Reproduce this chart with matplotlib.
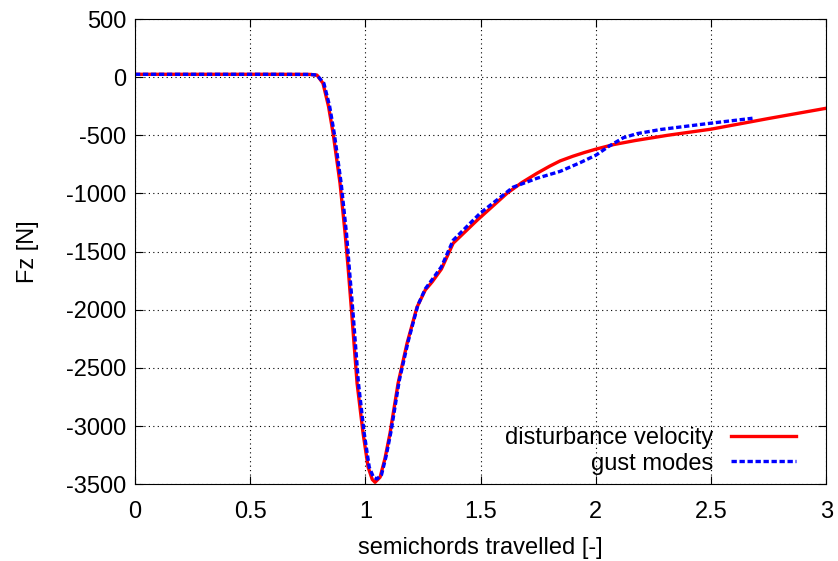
import matplotlib
matplotlib.use("Agg")
import matplotlib.pyplot as plt
from matplotlib.ticker import FuncFormatter

plt.rcParams['font.family'] = ['Liberation Sans', 'DejaVu Sans']
plt.rcParams['axes.unicode_minus'] = False
fontsize = 17

# disturbance velocity (red)
x_dist = [0.0, 0.3, 0.6, 0.76, 0.79, 0.816, 0.84, 0.86, 0.89, 0.912, 0.925, 0.942,
          0.964, 0.99, 1.012, 1.03, 1.042, 1.064, 1.085, 1.107, 1.142, 1.181,
          1.224, 1.26, 1.29, 1.33, 1.381, 1.485, 1.615, 1.68, 1.745, 1.8, 1.845,
          1.9, 1.95, 2.0, 2.076, 2.17, 2.31, 2.41, 2.5, 2.75, 3.0]
fz_dist = [25, 25, 25, 24, 18, -52, -250, -482, -912, -1342, -1634, -2064,
           -2632, -3062, -3355, -3460, -3484, -3440, -3280, -3062, -2632, -2288,
           -1978, -1830, -1760, -1650, -1428, -1230, -998, -905, -826, -765, -720,
           -680, -648, -619, -580, -545, -500, -472, -447, -355, -267]

# gust modes (blue)
x_gust = [0.0, 0.3, 0.6, 0.76, 0.79, 0.82, 0.845, 0.865, 0.895, 0.918, 0.93, 0.948,
          0.97, 0.995, 1.017, 1.035, 1.05, 1.07, 1.09, 1.112, 1.147, 1.186,
          1.228, 1.26, 1.29, 1.33, 1.381, 1.498, 1.641, 1.745, 1.845, 1.932,
          2.0, 2.06, 2.12, 2.18, 2.28, 2.4, 2.497, 2.6, 2.68]
fz_gust = [25, 25, 25, 24, 18, -52, -250, -482, -912, -1342, -1634, -2064,
           -2632, -3062, -3355, -3440, -3455, -3420, -3260, -3040, -2610, -2270,
           -1960, -1820, -1740, -1630, -1402, -1170, -946, -869, -810, -735,
           -671, -590, -520, -485, -450, -420, -396, -372, -353]

fig, ax = plt.subplots(figsize=(8.38, 5.61), dpi=100)
fig.subplots_adjust(left=0.161, right=0.986, top=0.966, bottom=0.137)

ax.plot(x_dist, fz_dist, color='#ff0000', lw=2.4, label='disturbance velocity')
ax.plot(x_gust, fz_gust, color='#0000ff', lw=2.4, ls=(0, (1.6, 0.8)), label='gust modes')

ax.set_xlim(0, 3)
ax.set_ylim(-3500, 500)
ax.set_xticks([0, 0.5, 1, 1.5, 2, 2.5, 3])
ax.set_yticks(range(-3500, 501, 500))
ax.xaxis.set_major_formatter(FuncFormatter(lambda v, p: f"{v:g}"))
ax.tick_params(direction='in', top=True, right=True, labelsize=fontsize, length=6)
ax.tick_params(axis='x', pad=12)
ax.tick_params(axis='y', pad=6)
ax.grid(True, color='black', ls=(0, (1, 3)), lw=0.8)
ax.set_xlabel('semichords travelled [-]', fontsize=fontsize, labelpad=10)
ax.set_ylabel('Fz [N]', fontsize=fontsize, labelpad=20)

ax.legend(loc='lower right', bbox_to_anchor=(0.97, 0.0), frameon=False,
          fontsize=fontsize, markerfirst=False, handlelength=2.75,
          handletextpad=0.75, borderaxespad=0.0, labelspacing=0.15)

fig.savefig('out.png')
